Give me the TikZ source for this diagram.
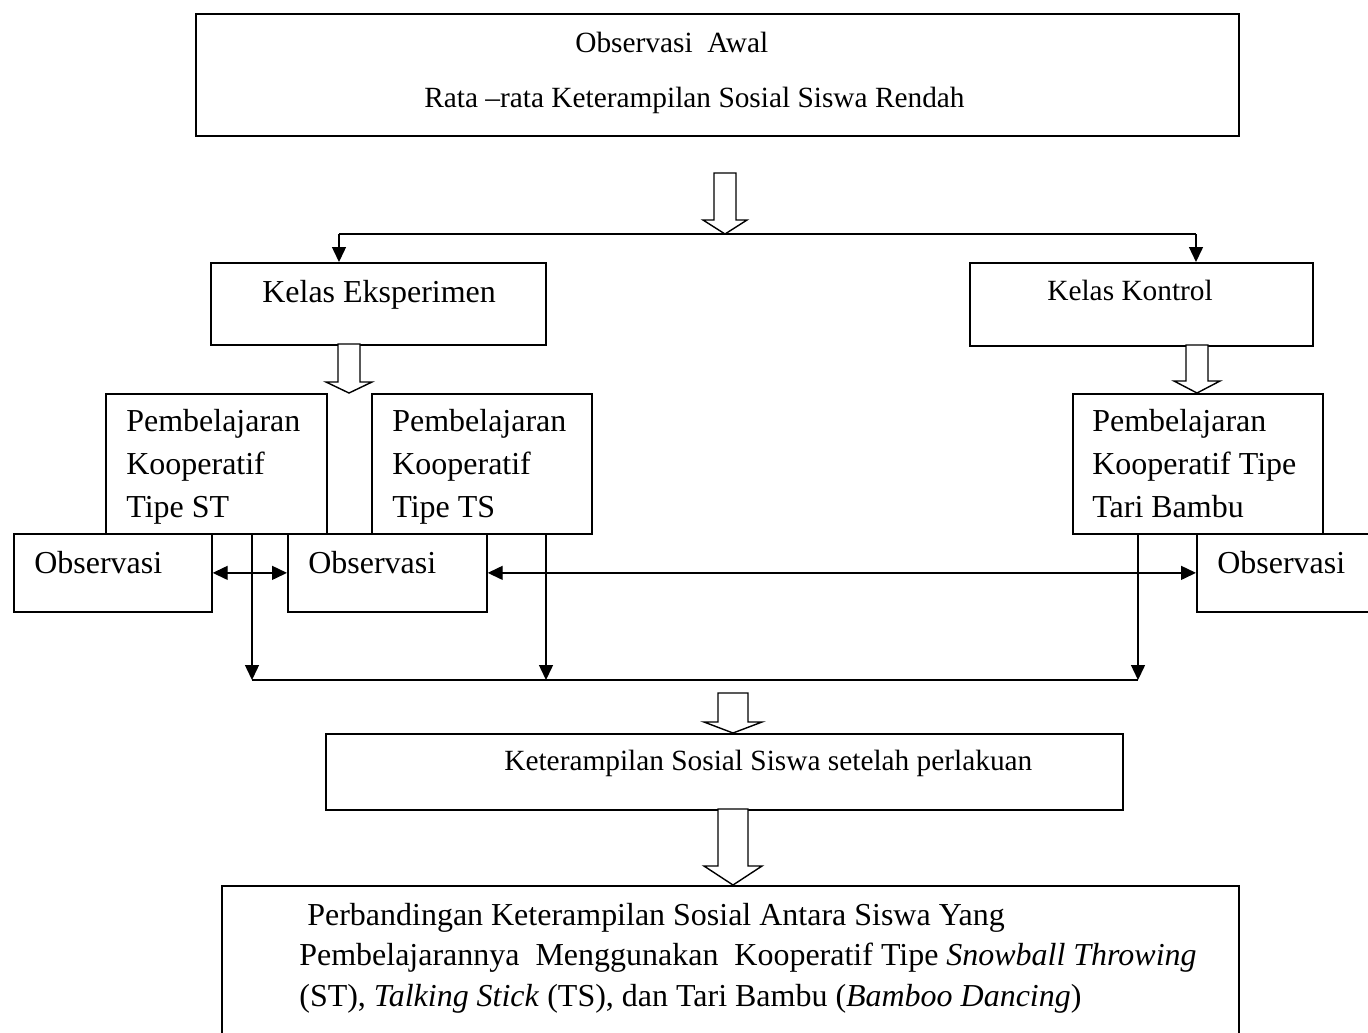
\documentclass[tikz,border=0pt]{standalone}
\usepackage{fontspec}
\setmainfont{Liberation Serif}
\usetikzlibrary{arrows.meta}
\tikzset{
  kotak/.style={draw, line width=1pt, inner sep=0pt, anchor=north west},
  besar/.style={font=\fontsize{18.2}{24.2}\selectfont, inner sep=0pt, anchor=base west, align=left},
  kecil/.style={font=\fontsize{16.7}{20}\selectfont, inner sep=0pt, anchor=base west},
  garis/.style={line width=0.8pt},
  panah/.style={garis, -{Triangle[length=0.3cm,width=0.28cm]}},
  panahdua/.style={garis, {Triangle[length=0.3cm,width=0.28cm]}-{Triangle[length=0.3cm,width=0.28cm]}},
  blok/.style={draw, fill=white, line width=0.8pt, line join=miter}
}
% hollow arrow: x, top, head base, tip, half shaft, half head
\newcommand{\panahblok}[6]{%
  \draw[blok] ({#1-#5},#2) -- ({#1+#5},#2) -- ({#1+#5},#3) -- ({#1+#6},#3) -- (#1,#4)
    -- ({#1-#6},#3) -- ({#1-#5},#3) -- cycle;}
\begin{document}
\begin{tikzpicture}[x=0.02cm, y=-0.02cm]
\useasboundingbox (0,0) rectangle (1368,1032);
\clip (0,0) rectangle (1368,1032);
% boxes
\node[kotak, minimum width=20.86cm, minimum height=2.44cm] (awal) at (195,13) {};
\node[kotak, minimum width=6.7cm, minimum height=1.64cm] (eksp) at (210,262) {};
\node[kotak, minimum width=6.86cm, minimum height=1.66cm] (kontrol) at (969,262) {};
\node[kotak, minimum width=4.42cm, minimum height=2.8cm] (st) at (105,393) {};
\node[kotak, minimum width=4.4cm, minimum height=2.8cm] (ts) at (371,393) {};
\node[kotak, minimum width=5cm, minimum height=2.8cm] (tari) at (1072,393) {};
\node[kotak, minimum width=3.96cm, minimum height=1.56cm] (obs1) at (13,533) {};
\node[kotak, minimum width=3.98cm, minimum height=1.56cm] (obs2) at (287,533) {};
\node[kotak, minimum width=4.4cm, minimum height=1.56cm] (obs3) at (1196,533) {};
\node[kotak, minimum width=15.94cm, minimum height=1.52cm] (ketr) at (325,733) {};
\node[kotak, minimum width=20.34cm, minimum height=3.6cm] (banding) at (221,885) {};
% texts (multi-line ones sit on their last line)
\node[kecil] (t-awal1) at (575,52) {Observasi\ \ Awal};
\node[kecil] (t-awal2) at (424,107) {Rata --rata Keterampilan Sosial Siswa Rendah};
\node[besar] (t-eksp) at (262,302) {Kelas Eksperimen};
\node[kecil] (t-kontrol) at (1047,300) {Kelas Kontrol};
\node[besar] (t-st) at (126,517) {Pembelajaran\\Kooperatif\\Tipe ST};
\node[besar] (t-ts) at (392,517) {Pembelajaran\\Kooperatif\\Tipe TS};
\node[besar] (t-tari) at (1092,517) {Pembelajaran\\Kooperatif Tipe\\Tari Bambu};
\node[besar] (t-obs1) at (34,573) {Observasi};
\node[besar] (t-obs2) at (308,573) {Observasi};
\node[besar] (t-obs3) at (1217,573) {Observasi};
\node[kecil] (t-ketr) at (504,770) {Keterampilan Sosial Siswa setelah perlakuan};
\node[besar, font=\fontsize{18.2}{22.8}\selectfont] (t-banding) at (299,1006)
  {\hspace*{0.16cm}Perbandingan Keterampilan Sosial Antara Siswa Yang\\
   Pembelajarannya\ \ Menggunakan\ \ Kooperatif Tipe \textit{Snowball Throwing}\\
   (ST), \textit{Talking Stick} (TS), dan Tari Bambu (\textit{Bamboo Dancing})};
% split to both classes
\coordinate (ce) at (339,234);
\coordinate (ck) at (1196,234);
\draw[garis] (ce) -- (ck);
\draw[panah] (ce) -- (ce |- eksp.north);
\draw[panah] (ck) -- (ck |- kontrol.north);
% observations
\draw[panahdua] (obs1) -- (obs2);
\draw[panahdua] (obs2) -- (obs3);
% join below the learning boxes
\coordinate (pst) at (252,680);
\coordinate (pts) at (546,680);
\coordinate (ptb) at (1138,680);
\foreach \n/\p in {st/pst, ts/pts, tari/ptb} \draw[panah] (\n.south -| \p) -- (\p);
\draw[garis] (pst) -- (ptb);
% hollow arrows
\panahblok{725}{173}{220}{234}{11}{22}
\panahblok{349}{344}{382}{393}{11}{23}
\panahblok{1197}{345}{381}{393}{11}{23}
\panahblok{733}{693}{722}{733}{15}{29}
\panahblok{733}{809}{866}{885}{15}{29}
\end{tikzpicture}
\end{document}
